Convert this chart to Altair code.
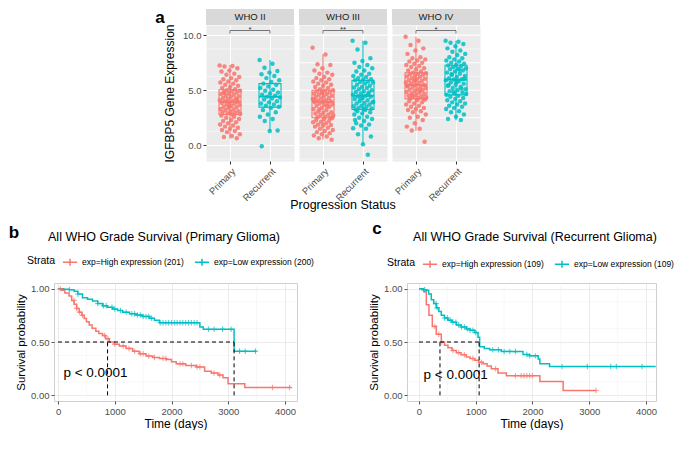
import altair as alt
import pandas as pd

RED = "#F8766D"
TEAL = "#00BFC4"
FONT = "Liberation Sans"

# ---------------- Panel a data ----------------
GRADES = ["WHO II", "WHO III", "WHO IV"]
STATUS = ["Primary", "Recurrent"]
SIG = ["*", "**", "*"]

# box statistics per grade/status: q1, median, q3, lower whisker, upper whisker
BOX_Q1 = [[2.80, 3.47], [2.50, 3.25], [4.22, 4.58]]
BOX_MED = [[3.95, 4.42], [3.95, 4.50], [5.47, 5.97]]
BOX_Q3 = [[5.05, 5.60], [5.00, 5.90], [6.58, 7.27]]
BOX_LO = [[0.60, 1.30], [0.50, 0.08], [1.33, 2.28]]
BOX_HI = [[7.30, 7.75], [8.25, 9.50], [9.86, 9.50]]

who2_primary = [7.25, 7.2, 7.15, 7.0, 6.8, 6.7, 6.5, 6.4, 6.2, 6.1, 6.0, 5.9, 5.8, 5.7, 5.6, 5.5, 5.4, 5.3, 5.2, 5.1,
                5.0, 4.95, 4.9, 4.85, 4.8, 4.7, 4.65, 4.6, 4.5, 4.45, 4.4, 4.3, 4.25, 4.2, 4.1, 4.05, 4.0, 3.95, 3.9, 3.85,
                3.8, 3.7, 3.65, 3.6, 3.5, 3.45, 3.4, 3.3, 3.25, 3.2, 3.1, 3.05, 3.0, 2.95, 2.9, 2.85, 2.8, 4.75, 4.15, 3.55,
                2.7, 2.6, 2.5, 2.4, 2.3, 2.2, 2.1, 2.0, 1.9, 1.8, 1.7, 1.6, 1.5, 1.4, 1.3, 1.2, 1.0, 0.85, 0.75, 0.65]
who2_recurrent = [7.75, 7.4, 7.05, 6.75, 6.6, 6.45, 6.3, 6.1, 5.9, 5.75, 5.6, 5.5, 5.35, 5.2, 5.05, 4.95, 4.8, 4.7, 4.6, 4.5,
                  4.42, 4.35, 4.25, 4.15, 4.0, 3.9, 3.8, 3.7, 3.6, 3.5, 3.4, 3.2, 3.0, 2.8, 2.6, 2.4, 2.2, 1.35, 1.3, -0.08]
who3_primary = [8.85, 8.25, 7.35, 7.3, 7.0, 6.8, 6.6, 6.5, 6.4, 6.2, 6.1, 6.0, 5.9, 5.8, 5.7, 5.6, 5.5, 5.4, 5.3, 5.2, 5.1,
                5.0, 4.95, 4.9, 4.85, 4.8, 4.7, 4.65, 4.6, 4.5, 4.45, 4.4, 4.3, 4.25, 4.2, 4.1, 4.05, 4.0, 3.95, 3.9, 3.85,
                3.8, 3.7, 3.65, 3.6, 3.5, 3.4, 3.3, 3.2, 3.1, 3.0, 2.95, 2.9, 2.8, 2.75, 2.7, 2.6, 2.55, 2.5, 4.75, 4.15,
                3.55, 3.25, 2.45, 2.4, 2.3, 2.2, 2.15, 2.1, 2.0, 1.9, 1.85, 1.8, 1.7, 1.6, 1.5, 1.4, 1.3, 1.2, 1.1, 1.0,
                0.9, 0.8, 0.65, 0.5]
who3_recurrent = [9.5, 9.3, 8.7, 7.9, 7.65, 7.5, 7.3, 7.1, 7.0, 6.8, 6.7, 6.5, 6.4, 6.3, 6.2, 6.1, 6.0, 5.95,
                  5.9, 5.8, 5.75, 5.7, 5.6, 5.5, 5.4, 5.3, 5.25, 5.2, 5.1, 5.0, 4.9, 4.85, 4.8, 4.7, 4.6, 4.5, 4.45, 4.4,
                  4.3, 4.2, 4.1, 4.0, 3.9, 3.85, 3.8, 3.7, 3.6, 3.55, 3.5, 3.4, 3.35, 3.3, 3.25, 4.65, 4.25, 3.95,
                  3.2, 3.1, 3.0, 2.9, 2.8, 2.6, 2.5, 2.4, 2.2, 2.0, 1.9, 1.8, 1.55, 1.5, 1.0, 0.8, 0.1, 2.3, -0.85]
who4_primary = [9.86, 9.5, 9.1, 8.8, 8.6, 8.3, 8.0, 7.9, 7.8, 7.7, 7.6, 7.5, 7.4, 7.3, 7.2, 7.1, 7.0, 6.9, 6.8, 6.7, 6.6,
                6.55, 6.5, 6.45, 6.4, 6.3, 6.25, 6.2, 6.1, 6.05, 6.0, 5.9, 5.85, 5.8, 5.7, 5.65, 5.6, 5.5, 5.47, 5.4,
                5.3, 5.25, 5.2, 5.1, 5.05, 5.0, 4.9, 4.85, 4.8, 4.7, 4.65, 4.6, 4.5, 4.45, 4.4, 4.35, 4.3, 4.25, 4.22,
                5.95, 5.35, 4.95, 4.55, 4.15, 4.1, 4.0, 3.9, 3.8, 3.7, 3.6, 3.5, 3.4, 3.3, 3.2, 3.1, 3.0, 2.8, 2.6, 2.5,
                2.3, 2.0, 1.7, 1.5, 1.35, 0.33]
who4_recurrent = [9.5, 9.4, 9.3, 9.2, 9.0, 8.8, 8.6, 8.5, 8.3, 8.2, 8.0, 7.9, 7.8, 7.7, 7.6, 7.5, 7.4, 7.3,
                  7.25, 7.2, 7.1, 7.0, 6.95, 6.9, 6.8, 6.7, 6.6, 6.5, 6.4, 6.3, 6.2, 6.1, 6.0, 5.97, 5.9, 5.8, 5.7, 5.6,
                  5.5, 5.4, 5.3, 5.2, 5.1, 5.0, 4.9, 4.8, 4.7, 4.6, 6.85, 6.45, 6.05, 5.75, 5.45, 5.15, 4.85, 4.65,
                  4.5, 4.4, 4.3, 4.2, 4.1, 4.0, 3.9, 3.8, 3.7, 3.6, 3.5, 3.4, 3.3, 3.1, 3.0, 2.8, 2.6, 2.4, 2.3]
POINTS = [[who2_primary, who2_recurrent], [who3_primary, who3_recurrent], [who4_primary, who4_recurrent]]

Y_MAJOR = [0, 2.5, 5, 7.5, 10]
Y_MINOR = [-1.25, 1.25, 3.75, 6.25, 8.75]

# ---------------- Panel b / c data (Kaplan-Meier steps) ----------------
b_hi_t = [0, 60, 120, 195, 240, 283, 330, 372, 420, 460, 500, 549, 600, 667, 720, 785, 840, 903, 990, 1080, 1200,
          1316, 1430, 1552, 1670, 1788, 1906, 2000, 2083, 2250, 2437, 2584, 2700, 2820, 2908, 2997, 3292, 4118]
b_hi_s = [1.0, 0.985, 0.96, 0.93, 0.89, 0.855, 0.815, 0.78, 0.75, 0.72, 0.69, 0.66, 0.63, 0.60, 0.58, 0.56, 0.53,
          0.50, 0.48, 0.463, 0.44, 0.413, 0.39, 0.369, 0.355, 0.345, 0.335, 0.315, 0.295, 0.28, 0.265, 0.227, 0.21,
          0.19, 0.165, 0.109, 0.074, 0.074]
b_lo_t = [0, 100, 195, 283, 350, 431, 520, 608, 700, 785, 870, 962, 1050, 1139, 1260, 1375, 1490, 1611, 1700, 1788,
          2500, 2560, 3103, 3500]
b_lo_s = [1.0, 0.995, 0.99, 0.975, 0.95, 0.915, 0.90, 0.885, 0.86, 0.84, 0.825, 0.81, 0.795, 0.78, 0.765, 0.752,
          0.74, 0.723, 0.705, 0.68, 0.64, 0.62, 0.413, 0.413]
b_hi_cens = [40, 280, 330, 380, 430, 820, 880, 1000, 1150, 1250, 1350, 1450, 1500, 1600, 1700, 1850, 1900, 2150,
             2200, 2350, 2450, 2500, 2750, 2850, 3780, 4080]
b_lo_cens = [200, 350, 700, 800, 850, 950, 1000, 1100, 1200, 1300, 1350, 1400, 1450, 1500, 1550, 1600, 1650, 1800,
             1850, 1900, 1950, 2000, 2050, 2100, 2150, 2200, 2250, 2300, 2350, 2400, 2450, 2650, 2750, 2900, 3050,
             3200, 3300, 3480]
b_labels = ["exp=High expression (201)", "exp=Low expression (200)"]
b_medians = [873, 3103]

c_hi_t = [0, 50, 82, 129, 176, 235, 305, 393, 450, 511, 580, 658, 740, 834, 900, 981, 1050, 1128, 1200, 1274, 1392,
          1539, 2130, 2540, 3120]
c_hi_s = [1.0, 0.99, 0.97, 0.85, 0.75, 0.646, 0.573, 0.50, 0.47, 0.447, 0.42, 0.40, 0.38, 0.36, 0.345, 0.33, 0.31,
          0.295, 0.275, 0.25, 0.21, 0.184, 0.13, 0.046, 0.046]
c_lo_t = [0, 80, 129, 170, 217, 260, 305, 350, 393, 450, 511, 580, 658, 740, 834, 900, 981, 1040, 1069, 1150, 1245,
          1450, 1656, 1833, 1950, 2100, 2130, 2300, 4170]
c_lo_s = [1.0, 0.99, 0.985, 0.95, 0.895, 0.86, 0.82, 0.785, 0.75, 0.725, 0.705, 0.685, 0.66, 0.64, 0.623, 0.61,
          0.588, 0.545, 0.456, 0.44, 0.427, 0.412, 0.41, 0.383, 0.37, 0.34, 0.295, 0.27, 0.27]
c_hi_cens = [280, 350, 400, 600, 700, 800, 950, 1100, 1350, 1700, 1800, 1850, 1900, 1950, 2000, 3120]
c_lo_cens = [100, 300, 320, 450, 500, 550, 600, 650, 700, 750, 800, 850, 900, 950, 1000, 1300, 1400, 1500, 1600,
             1700, 1900, 1950, 2050, 2520, 2966, 3378, 3477, 3930]
c_labels = ["exp=High expression (109)", "exp=Low expression (109)"]
c_medians = [370, 1060]

AX_LABEL = "#4D4D4D"

# ---------------- Panel a ----------------
FW, FH = 88, 136


def facet_panel(k):
    g = GRADES[k]
    rows = []
    for si, st in enumerate(STATUS):
        for i, v in enumerate(POINTS[k][si]):
            jit = (((i * 0.6180339) % 1.0) - 0.5) * 0.52
            rows.append({"status": st, "value": v, "xp": si + 1 + jit})
    pts = pd.DataFrame(rows)
    bx = pd.DataFrame({
        "status": STATUS, "pos": [1, 2],
        "x1": [0.725, 1.725], "x2": [1.275, 2.275],
        "q1": BOX_Q1[k], "med": BOX_MED[k], "q3": BOX_Q3[k], "lo": BOX_LO[k], "hi": BOX_HI[k],
    })
    xs = alt.Scale(domain=[0.4, 2.6], nice=False, zero=False)
    ys = alt.Scale(domain=[-1.42, 10.92], nice=False, zero=False)
    cs = alt.Scale(domain=STATUS, range=[RED, TEAL])
    xaxis = alt.Axis(values=[1, 2], labelExpr="datum.value == 1 ? 'Primary' : 'Recurrent'", labelAngle=315,
                     labelAlign="right", labelBaseline="top", labelFontSize=9.5, labelColor=AX_LABEL, title=None,
                     grid=True, gridColor="white", gridWidth=1.1, domain=False, tickColor="#333333", tickSize=3,
                     labelPadding=2)
    if k == 0:
        yaxis = alt.Axis(values=Y_MAJOR, format=".1f", title="IGFBP5 Gene Expression",
                         titleFontSize=12, titleFontWeight="normal", titleColor="black", labelFontSize=9.5,
                         labelColor=AX_LABEL, grid=True, gridColor="white", gridWidth=1.1, domain=False,
                         tickColor="#333333", tickSize=3, titlePadding=6)
    else:
        yaxis = None
    layers = []
    minor = alt.Chart(pd.DataFrame({"y": Y_MINOR})).mark_rule(
        color="white", strokeWidth=0.5).encode(y=alt.Y("y:Q", scale=ys, axis=yaxis))
    layers.append(minor)
    if k > 0:
        layers.append(alt.Chart(pd.DataFrame({"y": Y_MAJOR})).mark_rule(
            color="white", strokeWidth=1.1).encode(y=alt.Y("y:Q", scale=ys, axis=None)))
    dots = alt.Chart(pts).mark_circle(size=20, opacity=0.85).encode(
        x=alt.X("xp:Q", scale=xs, axis=xaxis), y=alt.Y("value:Q", scale=ys),
        color=alt.Color("status:N", scale=cs, legend=None))
    whisk = alt.Chart(bx).mark_rule(strokeWidth=1.1).encode(
        x=alt.X("pos:Q", scale=xs), y=alt.Y("lo:Q", scale=ys), y2="hi:Q",
        color=alt.Color("status:N", scale=cs, legend=None))
    box = alt.Chart(bx).mark_rect(fillOpacity=0, strokeWidth=1.1).encode(
        x=alt.X("x1:Q", scale=xs), x2="x2:Q", y=alt.Y("q1:Q", scale=ys), y2="q3:Q",
        stroke=alt.Stroke("status:N", scale=cs, legend=None))
    med = alt.Chart(bx).mark_rule(strokeWidth=2).encode(
        x=alt.X("x1:Q", scale=xs), x2="x2:Q", y=alt.Y("med:Q", scale=ys),
        color=alt.Color("status:N", scale=cs, legend=None))
    sig = pd.DataFrame({"x1": [1], "x2": [2], "xm": [1.5], "y": [10.42], "ylo": [10.14], "ys": [10.28],
                        "lab": [SIG[k]]})
    bar = alt.Chart(sig).mark_rule(color="#444444", strokeWidth=0.7).encode(
        x=alt.X("x1:Q", scale=xs), x2="x2:Q", y=alt.Y("y:Q", scale=ys))
    drop1 = alt.Chart(sig).mark_rule(color="#444444", strokeWidth=0.7).encode(
        x=alt.X("x1:Q", scale=xs), y=alt.Y("ylo:Q", scale=ys), y2="y:Q")
    drop2 = alt.Chart(sig).mark_rule(color="#444444", strokeWidth=0.7).encode(
        x=alt.X("x2:Q", scale=xs), y=alt.Y("ylo:Q", scale=ys), y2="y:Q")
    star = alt.Chart(sig).mark_text(fontSize=8, baseline="alphabetic", color="#333333").encode(
        x=alt.X("xm:Q", scale=xs), y=alt.Y("ys:Q", scale=ys), text="lab:N")
    strip_df = pd.DataFrame({"lab": [g]})
    strip = alt.Chart(strip_df).mark_rect(color="#D9D9D9").encode(
        x=alt.value(0), x2=alt.value(FW), y=alt.value(-16), y2=alt.value(0))
    strip_txt = alt.Chart(strip_df).mark_text(fontSize=9.5, color="#1A1A1A").encode(
        x=alt.value(FW / 2), y=alt.value(-8), text="lab:N")
    layers += [dots, whisk, box, med, bar, drop1, drop2, strip, strip_txt, star]
    if k == 0:
        layers.append(alt.Chart(pd.DataFrame({"t": ["a"]})).mark_text(
            fontSize=17, fontWeight="bold", color="black").encode(
            x=alt.value(-46), y=alt.value(-7), text="t:N"))
    if k == 1:
        layers.append(alt.Chart(pd.DataFrame({"t": ["Progression Status"]})).mark_text(
            fontSize=12.5, color="black").encode(x=alt.value(FW / 2), y=alt.value(FH + 44), text="t:N"))
    return alt.layer(*layers).properties(
        width=FW, height=FH, view=alt.ViewBackground(fill="#EBEBEB", stroke="transparent"))


panel_a = alt.hconcat(*[facet_panel(k) for k in range(3)], spacing=5, bounds="flush").resolve_scale(
    x="independent", y="independent", color="independent", stroke="independent")


def step_at(ts, ss, t):
    val = ss[0]
    for tt, s in zip(ts, ss):
        if tt <= t:
            val = s
    return val


def km_panel(hi_t, hi_s, lo_t, lo_s, hi_c, lo_c, labels, medians, ptxt, xdom, W, H, title, tag, tagxy, titlexy,
             legxy):
    line_df = pd.DataFrame(
        [{"t": t, "s": s, "strata": labels[0]} for t, s in zip(hi_t, hi_s)] +
        [{"t": t, "s": s, "strata": labels[1]} for t, s in zip(lo_t, lo_s)])
    cens_df = pd.DataFrame(
        [{"t": t, "s": step_at(hi_t, hi_s, t), "strata": labels[0]} for t in hi_c] +
        [{"t": t, "s": step_at(lo_t, lo_s, t), "strata": labels[1]} for t in lo_c])
    cs = alt.Scale(domain=labels, range=[RED, TEAL])
    xs = alt.Scale(domain=xdom, nice=False, zero=False)
    ys = alt.Scale(domain=[-0.053, 1.053], nice=False, zero=False)
    xaxis = alt.Axis(values=[0, 1000, 2000, 3000, 4000], format="d", title="Time (days)", titleFontSize=12,
                     titleFontWeight="normal", titleColor="black", labelFontSize=9.5, labelColor=AX_LABEL,
                     grid=True, gridColor="#E6E6E6", gridWidth=0.8, domain=False, tickColor="#555555",
                     tickSize=3, titlePadding=3)
    yaxis = alt.Axis(values=[0, 0.25, 0.5, 0.75, 1.0], format=".2f", title="Survival probability",
                     titleFontSize=11.5, titleFontWeight="normal", titleColor="black", labelFontSize=9.5,
                     labelColor=AX_LABEL, grid=True, gridColor="#E6E6E6", gridWidth=0.8, domain=False,
                     tickColor="#555555", tickSize=3)
    minor_x = alt.Chart(pd.DataFrame({"x": [500, 1500, 2500, 3500]})).mark_rule(
        color="#F0F0F0", strokeWidth=0.5).encode(x=alt.X("x:Q", scale=xs, axis=xaxis))
    minor_y = alt.Chart(pd.DataFrame({"y": [0.125, 0.375, 0.625, 0.875]})).mark_rule(
        color="#F0F0F0", strokeWidth=0.5).encode(y=alt.Y("y:Q", scale=ys, axis=yaxis))
    lines = alt.Chart(line_df).mark_line(interpolate="step-after", strokeWidth=1.5, clip=True).encode(
        x=alt.X("t:Q", scale=xs), y=alt.Y("s:Q", scale=ys),
        color=alt.Color("strata:N", scale=cs, legend=alt.Legend(
            orient="none", legendX=legxy[0], legendY=legxy[1], direction="horizontal", title="Strata",
            titleOrient="left", titleFontSize=10.5, titleFontWeight="normal", titleColor="black",
            labelFontSize=8.5, labelColor="black", symbolType="M-1,0L1,0M0,-0.5L0,0.5", symbolSize=200,
            symbolStrokeWidth=1.5, columnPadding=7, labelOffset=4, titlePadding=6)))
    cens = alt.Chart(cens_df).mark_point(shape="M-1,0L1,0M0,-1L0,1", filled=False, size=30,
                                         strokeWidth=1.1).encode(
        x=alt.X("t:Q", scale=xs), y=alt.Y("s:Q", scale=ys),
        color=alt.Color("strata:N", scale=cs, legend=None))
    hdf = pd.DataFrame({"x": [0], "x2": [max(medians)], "y": [0.5]})
    hline = alt.Chart(hdf).mark_rule(color="black", strokeDash=[4, 3], strokeWidth=1).encode(
        x=alt.X("x:Q", scale=xs), x2="x2:Q", y=alt.Y("y:Q", scale=ys))
    vdf = pd.DataFrame({"x": medians, "y0": [0, 0], "y1": [0.5, 0.5]})
    vline = alt.Chart(vdf).mark_rule(color="black", strokeDash=[4, 3], strokeWidth=1).encode(
        x=alt.X("x:Q", scale=xs), y=alt.Y("y0:Q", scale=ys), y2="y1:Q")
    pdf = pd.DataFrame({"x": [ptxt[0]], "y": [ptxt[1]], "t": ["p < 0.0001"]})
    ptext = alt.Chart(pdf).mark_text(fontSize=13.5, color="black").encode(
        x=alt.X("x:Q", scale=xs), y=alt.Y("y:Q", scale=ys), text="t:N")
    tdf = pd.DataFrame({"t": [title], "tag": [tag]})
    ttl = alt.Chart(tdf).mark_text(fontSize=12.5, color="black").encode(
        x=alt.value(titlexy[0]), y=alt.value(titlexy[1]), text="t:N")
    tg = alt.Chart(tdf).mark_text(fontSize=17, fontWeight="bold", color="black").encode(
        x=alt.value(tagxy[0]), y=alt.value(tagxy[1]), text="tag:N")
    return alt.layer(minor_x, minor_y, lines, cens, hline, vline, ptext, ttl, tg).properties(
        width=W, height=H, view=alt.ViewBackground(fill="white", stroke="#CFCFCF"))


panel_b = km_panel(b_hi_t, b_hi_s, b_lo_t, b_lo_s, b_hi_cens, b_lo_cens, b_labels, b_medians, (660, 0.206),
                   [-71, 4212], 243, 118, "All WHO Grade Survival (Primary Glioma)", "b",
                   (-40, -50), (110, -46), (-27, -29))
panel_c = km_panel(c_hi_t, c_hi_s, c_lo_t, c_lo_s, c_hi_cens, c_lo_cens, c_labels, c_medians, (645, 0.19),
                   [-211, 4176], 249, 118, "All WHO Grade Survival (Recurrent Glioma)", "c",
                   (-30, -54), (128, -46), (-20, -27))

spacer = alt.Chart(pd.DataFrame({"x": [0]})).mark_point(opacity=0).encode(
    x=alt.X("x:Q", axis=None), y=alt.Y("x:Q", axis=None)).properties(
    width=152, height=10, view=alt.ViewBackground(fill="transparent", stroke="transparent"))

row1 = alt.hconcat(spacer, panel_a, spacing=0, bounds="flush").resolve_scale(
    x="independent", y="independent", color="independent", stroke="independent")
row2 = alt.hconcat(panel_b, panel_c, spacing=110, bounds="flush").resolve_scale(
    x="independent", y="independent", color="independent", stroke="independent")

chart = alt.vconcat(row1, row2, spacing=7).resolve_scale(
    x="independent", y="independent", color="independent", stroke="independent").configure(
    font=FONT, padding=0, background="white").configure_text(font=FONT).configure_legend(
    labelFont=FONT, titleFont=FONT).configure_axis(labelFont=FONT, titleFont=FONT)

chart.save("out.html", embed_options={"renderer": "svg", "actions": False})
